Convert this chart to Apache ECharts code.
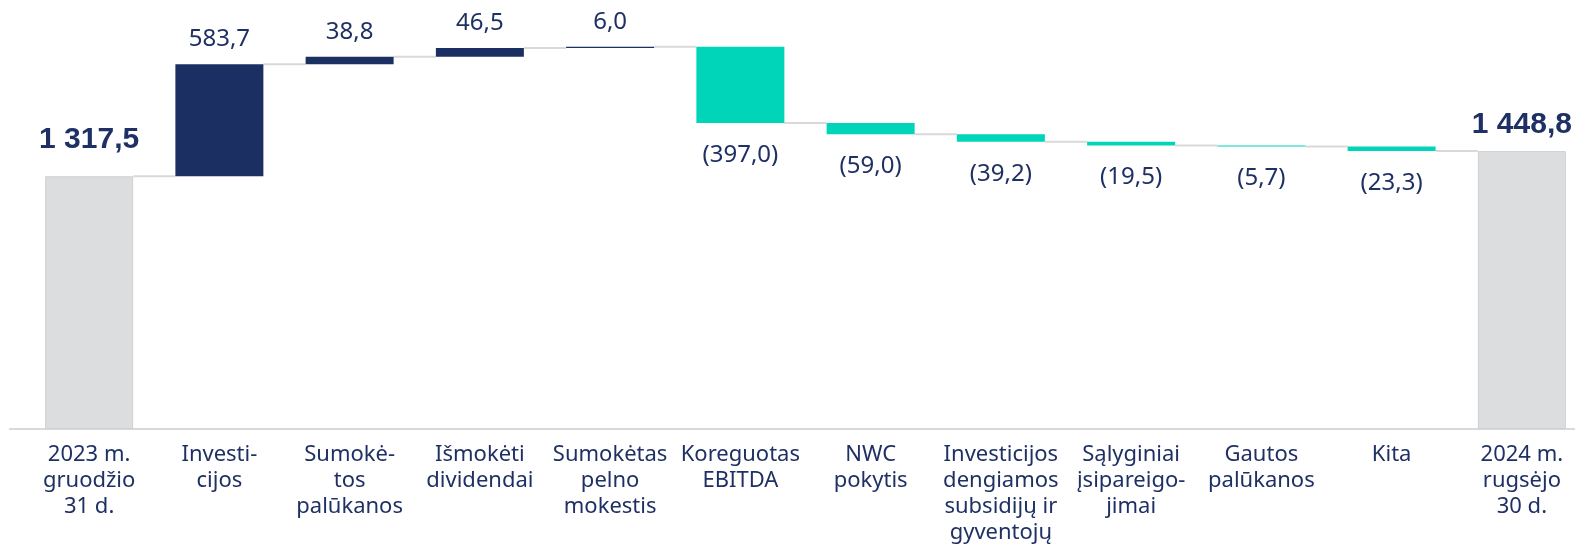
<!DOCTYPE html>
<html style="height: 100%">
<head>
    <meta charset="UTF-8">
    <script src="https://cdn.jsdelivr.net/npm/echarts@6/dist/echarts.min.js"></script>
    <style type="text/css">
        html, body { margin: 0; padding: 0; background: #ffffff; }
        #paint { width: 1575px; height: 547px; }
    </style>
</head>
<body>
    <div id="paint"></div>
<script>
    // categories (line breaks as in the original slide)
    var categories = [
        '2023 m.\ngruodžio\n31 d.',
        'Investi-\ncijos',
        'Sumokė-\ntos\npalūkanos',
        'Išmokėti\ndividendai',
        'Sumokėtas\npelno\nmokestis',
        'Koreguotas\nEBITDA',
        'NWC\npokytis',
        'Investicijos\ndengiamos\nsubsidijų ir\ngyventojų',
        'Sąlyginiai\nįsipareigo-\njimai',
        'Gautos\npalūkanos',
        'Kita',
        '2024 m.\nrugsėjo\n30 d.'
    ];
    var startTotal = 1317.5;
    var endTotal = 1448.8;
    // changes between the two totals (positive = navy, negative = teal)
    var changes = [583.7, 38.8, 46.5, 6.0, -397.0, -59.0, -39.2, -19.5, -5.7, -23.3];

    var NAVY = '#1b2f62', TEAL = '#00d4b9', GREY = '#dcddde', TXT = '#1f3064';

    function fmt(v) {
        var s = Math.abs(v).toFixed(1).replace('.', ',');
        var parts = s.split(',');
        parts[0] = parts[0].replace(/\B(?=(\d{3})+(?!\d))/g, ' ');
        return parts.join(',');
    }

    // build waterfall: invisible base + visible delta
    var baseData = [0];
    var deltaData = [{
        value: startTotal,
        itemStyle: {color: GREY, borderColor: '#cfd0d2', borderWidth: 1},
        label: {show: true, position: 'top', distance: 22, fontSize: 30, fontWeight: 'bold',
            fontFamily: 'Liberation Sans', color: TXT, formatter: fmt(startTotal)}
    }];
    var levels = [startTotal];
    var running = startTotal;
    changes.forEach(function (c) {
        var next = running + c;
        baseData.push(Math.min(running, next));
        deltaData.push({
            value: Math.abs(c),
            itemStyle: {color: c >= 0 ? NAVY : TEAL},
            label: c >= 0
                ? {show: true, position: 'top', distance: 13, formatter: fmt(c)}
                : {show: true, position: 'bottom', distance: 20, formatter: '(' + fmt(c) + ')'}
        });
        running = next;
        levels.push(running);
    });
    baseData.push(0);
    deltaData.push({
        value: endTotal,
        itemStyle: {color: GREY, borderColor: '#cfd0d2', borderWidth: 1},
        label: {show: true, position: 'top', distance: 11, fontSize: 30, fontWeight: 'bold',
            fontFamily: 'Liberation Sans', color: TXT, formatter: fmt(endTotal)}
    });

    // connector lines from each bar to the next
    var connectorData = [];
    for (var i = 0; i < categories.length - 1; i++) {
        connectorData.push([i, levels[i]]);
    }

    var BAR_W = 88;

    var chart = echarts.init(document.getElementById('paint'), null, {renderer: 'canvas'});
    chart.setOption({
        backgroundColor: '#ffffff',
        animation: false,
        grid: {left: 24, top: 7, width: 1563, bottom: 118, containLabel: false, outerBoundsMode: 'none'},
        graphic: [{
            type: 'line',
            shape: {x1: 9, y1: 429, x2: 1575, y2: 429},
            style: {stroke: '#d9d9d9', lineWidth: 2},
            z: 0
        }],
        xAxis: {
            type: 'category',
            data: categories,
            axisLine: {show: false},
            axisTick: {show: false},
            axisLabel: {
                interval: 0,
                margin: 13,
                fontSize: 22,
                lineHeight: 26,
                color: TXT,
                fontFamily: 'Noto Sans',
                verticalAlign: 'top'
            }
        },
        yAxis: {
            type: 'value',
            min: 0,
            max: 2200,
            show: false,
            splitLine: {show: false}
        },
        series: [
            {
                name: 'base',
                type: 'bar',
                stack: 'w',
                barWidth: BAR_W,
                itemStyle: {color: 'transparent'},
                silent: true,
                data: baseData
            },
            {
                name: 'delta',
                type: 'bar',
                stack: 'w',
                barWidth: BAR_W,
                label: {fontSize: 24, color: TXT, fontFamily: 'Noto Sans'},
                data: deltaData,
                z: 3
            },
            {
                name: 'connector',
                type: 'custom',
                z: 1,
                data: connectorData,
                renderItem: function (params, api) {
                    var p = api.coord([api.value(0), api.value(1)]);
                    var cat = api.size([1, 0])[0];
                    return {
                        type: 'line',
                        shape: {x1: p[0] + BAR_W / 2, y1: p[1], x2: p[0] + cat - BAR_W / 2, y2: p[1]},
                        style: {stroke: '#d9d9d9', lineWidth: 2}
                    };
                }
            }
        ]
    });
</script>
</body>
</html>
